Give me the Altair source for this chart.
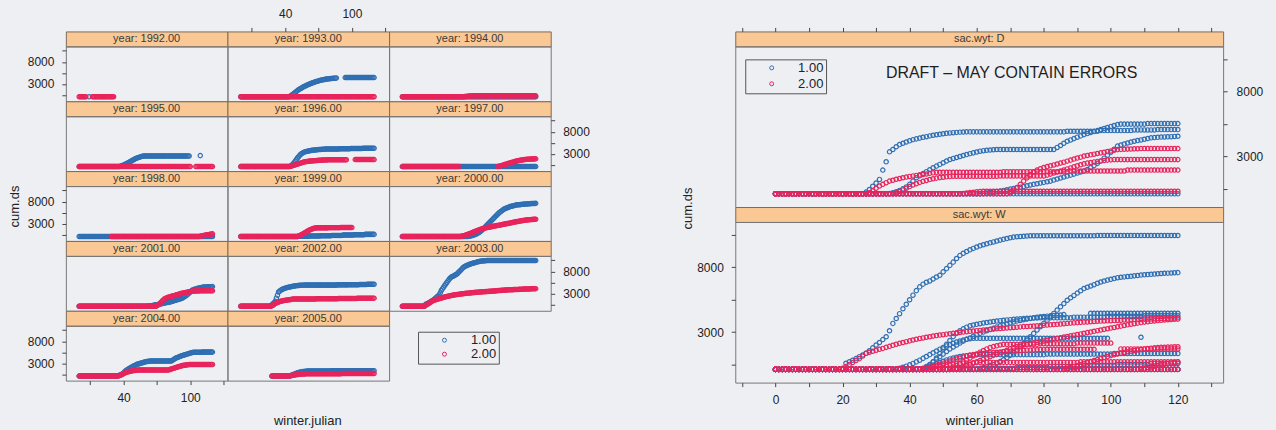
import altair as alt
import pandas as pd

FONT = "Liberation Sans"
BLUE = "#2f6fb3"
RED = "#e8245c"
STRIP_FILL = "#f9c894"
STRIP_EDGE = "#7d6a58"
BG = "#eeeff3"

GROUPS = ["1.00", "2.00"]
YEARS = [1992, 1993, 1994, 1995, 1996, 1997, 1998,
         1999, 2000, 2001, 2002, 2003, 2004, 2005]
SAC_WYT = ["D", "W", "D", "W", "W", "W", "W",
           "W", "W", "D", "D", "W", "D", "W"]

# cumulative ds per year and group: (first winter.julian day, daily values)
ds1_1992 = [(9, [120])]
ds2_1992 = [(0, [120] * 7), (12, [120] * 20)]

ds1_1993 = [
    (0, [120] * 44),
    (44, [200, 350, 500, 700, 900, 1100, 1300, 1500, 1700, 1850,
          2000, 2150, 2300, 2450, 2550, 2680, 2800, 2900, 3000, 3100,
          3200, 3300, 3400, 3480, 3550, 3620, 3700, 3780, 3850, 3900,
          3950, 4000, 4050, 4100, 4150, 4180, 4200, 4230, 4250, 4280,
          4300, 4320, 4350]),
    (94, [4450] * 27),
]
ds2_1993 = [(0, [120] * 121)]

ds1_1994 = [(0, [120] * 121)]
ds2_1994 = [(0, [120] * 56), (56, [150, 180, 210, 240, 270, 300]), (62, [320] * 59)]

ds1_1995 = [
    (0, [120] * 37),
    (37, [200, 280, 370, 470, 580, 700, 830, 970, 1110, 1260, 1400,
          1540, 1680, 1810, 1930, 2040, 2140, 2230, 2310, 2380, 2440, 2490]),
    (59, [2520] * 41),
    (109, [2600]),
]
ds2_1995 = [(0, [120] * 101), (105, [120] * 16)]

ds1_1996 = [
    (0, [120] * 45),
    (45, [250, 450, 700, 1000, 1350, 1700, 2050, 2350, 2650, 2900,
          3100, 3250, 3380, 3480]),
    (59, [3550, 3600, 3650, 3700, 3740, 3780, 3820, 3850, 3880, 3910,
          3940, 3960, 3980, 4000, 4020, 4040, 4060, 4070, 4080, 4090]),
    (79, [4100] * 10 + [4150] * 10 + [4200] * 11 + [4250] * 11),
]
ds2_1996 = [
    (0, [120] * 45),
    (45, [200, 280, 360, 440, 520, 600, 680, 760, 840, 920,
          1000, 1080, 1160, 1230]),
    (59, [1260, 1290, 1320, 1350, 1380, 1400, 1420, 1440, 1460, 1480,
          1500, 1520, 1540, 1560, 1580, 1600, 1610, 1620, 1630, 1640,
          1650, 1660]),
    (81, [1670] * 15),
    (103, [1700] * 18),
]

ds1_1997 = [(0, [120] * 121)]
ds2_1997 = [
    (0, [120] * 52),
    (86, [150, 200, 260, 330, 400, 480, 560, 640, 720, 800,
          880, 960, 1040, 1110, 1180, 1250, 1310, 1370, 1430, 1480,
          1530, 1580, 1620, 1660, 1700, 1730, 1760, 1780, 1800, 1820,
          1830, 1840, 1850, 1860, 1870]),
]

ds1_1998 = [(0, [120] * 121)]
ds2_1998 = [
    (29, [120] * 80),
    (109, [170, 220, 270, 320, 370, 420, 470, 520, 570, 620, 660, 700]),
]

ds1_1999 = [
    (0, [120] * 52),
    (52, [150] * 10 + [200] * 10 + [280] * 10 + [350] * 10
     + [420] * 10 + [500] * 10 + [580] * 9),
]
ds2_1999 = [
    (0, [120] * 52),
    (52, [200, 300, 420, 550, 700, 850, 1000, 1150, 1300, 1450,
          1580, 1700, 1800, 1880, 1940, 2000]),
    (68, [2050] * 11 + [2100] * 11 + [2150] * 11),
]

ds1_2000 = [
    (0, [120] * 60),
    (60, [150, 200, 260, 330, 410, 500, 600, 720, 860, 1020, 1200, 1400]),
    (72, [1620, 1870, 2130, 2380, 2640, 2900, 3160, 3410, 3670, 3920,
          4180, 4440, 4700, 4950, 5200, 5460, 5650, 5830, 6010, 6190,
          6360, 6460, 6560, 6660, 6770, 6870, 6940, 7010, 7070, 7130,
          7200]),
    (103, [7230, 7260, 7290, 7310, 7340, 7370, 7400, 7420, 7440, 7460,
           7480, 7500, 7520, 7540, 7550, 7560, 7580, 7590]),
]
ds2_2000 = [
    (0, [120] * 53),
    (53, [150, 200, 260, 330, 410, 500, 600, 700, 800, 900,
          1000, 1100, 1200, 1300, 1400, 1500, 1600, 1700, 1780, 1860,
          1930, 2000, 2060, 2110, 2160]),
    (78, [2210, 2260, 2310, 2360, 2410, 2460, 2510, 2560, 2610, 2660,
          2710, 2760, 2810, 2860, 2910, 2960, 3010, 3060, 3110, 3160,
          3210, 3260, 3310, 3360, 3410, 3460, 3510, 3560, 3610, 3650,
          3690, 3730, 3770, 3800, 3830, 3860, 3890, 3910, 3930, 3950,
          3970, 3990, 4000]),
]

ds1_2001 = [
    (0, [120] * 62),
    (62, [150, 180, 210, 250, 290, 330, 380, 430, 480, 530, 580]),
    (73, [620, 680, 740, 800, 850, 900, 950, 1000, 1050, 1100,
          1180, 1260, 1340, 1420, 1490, 1560, 1640, 1720, 1800, 1870,
          2000, 2150, 2300, 2470, 2640, 2870, 3100, 3330, 3560, 3800,
          3880, 3960, 4040, 4110, 4180, 4230, 4280, 4330, 4390, 4440,
          4460, 4480, 4500, 4510, 4520, 4530, 4550, 4560]),
]
ds2_2001 = [
    (0, [120] * 70),
    (70, [200, 400, 600, 850, 1100, 1350, 1600, 1800, 1950, 2050,
          2150, 2220, 2280, 2350, 2420, 2490, 2560, 2640, 2720, 2800,
          2880, 2950, 3030, 3080, 3130, 3180, 3230, 3280, 3330, 3380,
          3430, 3480, 3530]),
    (103, [3550, 3560, 3570, 3580, 3590, 3600] + [3610] * 12),
]

ds1_2002 = [
    (0, [120] * 27),
    (27, [250, 450, 700, 950, 1230, 1950, 2590, 3360, 3540, 3750,
          3920, 4020, 4120, 4210, 4300, 4360, 4420, 4480, 4530, 4590,
          4640, 4680, 4720, 4760, 4790, 4820, 4840, 4860, 4880, 4890,
          4900]),
    (58, [4900] * 29),
    (87, [4950] * 10 + [5000] * 10 + [5050] * 7 + [5080] * 7),
]
ds2_2002 = [
    (0, [120] * 28),
    (28, [200, 350, 550, 720, 850, 980, 1100, 1170, 1240, 1300,
          1360, 1410, 1460, 1500, 1540, 1580, 1610, 1650, 1700, 1740]),
    (48, [1780] * 20 + [1820] * 20 + [1880] * 17 + [1950] * 16),
]

ds1_2003 = [
    (0, [120] * 21),
    (21, [590, 700, 820, 950, 1100, 1230, 1360, 1560, 1780, 2000,
          2200, 2420, 2640, 3100, 3670, 4050, 4420, 4800, 5150, 5500,
          5850, 6200, 6490, 6700, 6850, 6950, 7100, 7250, 7380, 7650,
          7900, 8150, 8400, 8680, 8920, 9080, 9220, 9350, 9460, 9570,
          9660, 9740, 9820, 9890, 9960, 10030, 10100, 10160, 10220, 10280,
          10330, 10360, 10380, 10400, 10420]),
    (76, [10440] * 20 + [10460] * 25),
]
ds2_2003 = [
    (0, [120] * 20),
    (20, [200, 350, 500, 650, 800, 950, 1150, 1360]),
    (28, [1440, 1520, 1600, 1670, 1740, 1820, 1900, 1980, 2060, 2130]),
    (38, [2200, 2260, 2320, 2390, 2450, 2510, 2550, 2600, 2640, 2690]),
    (48, [2730, 2770, 2800, 2840, 2870, 2900, 2940, 2970, 3000, 3030]),
    (58, [3060, 3080, 3110, 3130, 3160, 3180, 3210, 3230, 3260, 3280]),
    (68, [3300, 3320, 3340, 3360, 3380, 3400, 3420, 3430, 3450, 3460]),
    (78, [3480, 3500, 3520, 3540, 3560, 3580, 3600, 3620, 3650, 3670]),
    (88, [3690, 3710, 3730, 3750, 3770, 3780, 3800, 3820, 3840, 3850]),
    (98, [3860, 3870, 3880, 3890, 3900, 3920, 3930, 3940, 3960, 3970]),
    (108, [3980, 3990, 4000, 4010, 4020, 4030, 4040, 4050, 4060, 4070,
           4080, 4090, 4100]),
]

ds1_2004 = [
    (0, [120] * 34),
    (34, [150, 200, 280, 380, 500, 650, 850, 1100, 1360, 1520,
          1680, 1830, 1980, 2130, 2260, 2390, 2520, 2650, 2770, 2850,
          2920, 3000, 3080, 3150, 3220, 3280, 3350, 3410, 3450, 3480,
          3500, 3520]),
    (66, [3540] * 18),
    (84, [3700, 3850, 4020, 4180, 4280, 4380, 4490, 4590, 4690, 4770,
          4850, 4930, 5000, 5080, 5160, 5240, 5320, 5390, 5460]),
    (103, [5500] * 8 + [5540] * 10),
]
ds2_2004 = [
    (0, [120] * 36),
    (36, [200, 300, 420, 550, 680, 800, 900, 1000, 1080, 1150,
          1220, 1280, 1330, 1370, 1400, 1430, 1450]),
    (53, [1480] * 14 + [1500] * 14),
    (81, [1560, 1640, 1720, 1800, 1880, 1960, 2040, 2120, 2200, 2280,
          2360, 2430, 2490, 2540, 2580, 2620, 2660, 2690, 2720, 2740]),
    (101, [2760] * 20),
]

ds1_2005 = [
    (28, [150] * 17),
    (45, [250, 350, 450, 550, 650, 750, 850, 930, 1000, 1060,
          1110, 1150, 1180, 1200, 1220, 1240]),
    (61, [1260] * 20 + [1300] * 20 + [1350] * 20),
]
ds2_2005 = [
    (28, [120] * 17),
    (45, [180, 240, 300, 350, 400, 440, 480, 510, 540, 560,
          580, 600, 610, 620, 630, 640]),
    (61, [660] * 30 + [700] * 30),
]

GROUP_1 = [ds1_1992, ds1_1993, ds1_1994, ds1_1995, ds1_1996, ds1_1997, ds1_1998,
           ds1_1999, ds1_2000, ds1_2001, ds1_2002, ds1_2003, ds1_2004, ds1_2005]
GROUP_2 = [ds2_1992, ds2_1993, ds2_1994, ds2_1995, ds2_1996, ds2_1997, ds2_1998,
           ds2_1999, ds2_2000, ds2_2001, ds2_2002, ds2_2003, ds2_2004, ds2_2005]

# long table; group 1.00 first so that 2.00 is drawn on top
rows = []
for grp, series in zip(GROUPS, [GROUP_1, GROUP_2]):
    for year, wyt, segments in zip(YEARS, SAC_WYT, series):
        for start, values in segments:
            for i, v in enumerate(values):
                rows.append({"year": year, "sac_wyt": wyt, "grp": grp,
                             "winter_julian": start + i, "cum_ds": v})
data = pd.DataFrame(rows)

X_DOMAIN = [-12, 133.5]
Y_DOMAIN = [-900, 11500]
Y_TICKS = [500, 3000, 5500, 8000, 10500]
Y_LABELS = "datum.value % 5000 == 3000 ? datum.label : ''"
SMALL_X_TICKS = [10, 40, 70, 100, 130]
SMALL_X_LABELS = "datum.value % 60 == 40 ? datum.label : ''"
BIG_X_TICKS = [-10, 0, 10, 20, 30, 40, 50, 60, 70, 80, 90, 100, 110, 120, 130]
BIG_X_LABELS = "datum.value % 20 == 0 ? datum.label : ''"

X_SCALE = alt.Scale(domain=X_DOMAIN, nice=False, zero=False)
Y_SCALE = alt.Scale(domain=Y_DOMAIN, nice=False, zero=False)
C_SCALE = alt.Scale(domain=GROUPS, range=[BLUE, RED])

PANEL_W, PANEL_H, STRIP_H = 162, 55, 15
WIDE_W, WIDE_H = 489, 161
HIDDEN = alt.ViewBackground(stroke="transparent")


def legend_at(x, y, row_gap):
    return alt.Legend(orient="none", legendX=x, legendY=y, title=None,
                      strokeColor="#555", padding=2, symbolType="circle",
                      symbolSize=16, symbolStrokeWidth=1, symbolOffset=18,
                      labelOffset=20, labelFont=FONT, labelFontSize=13,
                      labelColor="#222", rowPadding=row_gap)


def y_axis(orient, **kw):
    return alt.Axis(orient=orient, values=Y_TICKS, labelExpr=Y_LABELS,
                    format="d", **kw)


def points(filter_expr, x_axis, yax, legend, w, h):
    return alt.Chart(data).transform_filter(filter_expr).mark_point(
        shape="circle", filled=False, size=19, strokeWidth=1.2, opacity=1
    ).encode(
        x=alt.X("winter_julian:Q", scale=X_SCALE, axis=x_axis),
        y=alt.Y("cum_ds:Q", scale=Y_SCALE, axis=yax),
        color=alt.Color("grp:N", scale=C_SCALE, legend=legend),
    ).properties(width=w, height=h)


def strip(label, w):
    return alt.Chart(pd.DataFrame({"label": [label]})).mark_text(
        font=FONT, fontSize=11, color="#3a3a3a"
    ).encode(
        text="label:N", x=alt.value(w / 2), y=alt.value(STRIP_H / 2 + 0.5)
    ).properties(width=w, height=STRIP_H,
                 view=alt.ViewBackground(fill=STRIP_FILL, stroke=STRIP_EDGE))


def blank_strip(w):
    return alt.Chart(pd.DataFrame({"label": [""]})).mark_text().encode(
        text="label:N"
    ).properties(width=w, height=STRIP_H, view=HIDDEN)


def independent(c):
    return c.resolve_scale(color="independent").resolve_legend(color="independent")


# ---- left: one panel per year, strips and panels on one grid --------------
LAYOUT = [[1992, 1993, 1994], [1995, 1996, 1997], [1998, 1999, 2000],
          [2001, 2002, 2003], [2004, 2005]]

grid_items = []
for r, years in enumerate(LAYOUT):
    strips, panels = [], []
    for c, year in enumerate(years):
        yax = None
        if c == 0 and r % 2 == 0:
            if year == 1998:
                yax = y_axis("left", title="cum.ds", titleX=-47, titleY=20,
                             titleBaseline="alphabetic")
            else:
                yax = y_axis("left", title=None)
        elif c == 2 and r % 2 == 1:
            yax = y_axis("right", title=None)
        xax = None
        if year == 1993:
            xax = alt.Axis(orient="top", offset=STRIP_H, values=SMALL_X_TICKS,
                           labelExpr=SMALL_X_LABELS, title=None, labelPadding=7)
        elif year == 2004:
            xax = alt.Axis(orient="bottom", values=SMALL_X_TICKS,
                           labelExpr=SMALL_X_LABELS, title="winter.julian",
                           titleX=242, titleY=44, titleBaseline="alphabetic")
        strips.append(strip(f"year: {year}.00", PANEL_W))
        panels.append(points(alt.datum.year == year, xax, yax, None,
                             PANEL_W, PANEL_H))
    if len(years) < 3:
        # empty cell of the last row carries the key
        strips.append(blank_strip(PANEL_W))
        panels.append(points("false", None, None, legend_at(29, 6, 0),
                             PANEL_W, PANEL_H).properties(view=HIDDEN))
    grid_items += strips + panels

left_grid = independent(alt.concat(*grid_items, columns=3, spacing=0,
                                   bounds="flush"))

# ---- right: one panel per water-year type ---------------------------------
draft = alt.Chart(pd.DataFrame({"note": ["DRAFT \u2013 MAY CONTAIN ERRORS"]})).mark_text(
    font=FONT, fontSize=16, color="#1e1e1e"
).encode(text="note:N", x=alt.value(277), y=alt.value(27))

panel_d = alt.layer(
    points(alt.datum.sac_wyt == "D",
           alt.Axis(orient="top", offset=STRIP_H, values=BIG_X_TICKS,
                    labelOpacity=0, title=None, labelPadding=7),
           y_axis("right", title=None, labelPadding=9),
           legend_at(10, 13, 2), WIDE_W, WIDE_H),
    draft,
).properties(width=WIDE_W, height=WIDE_H)

panel_w = points(
    alt.datum.sac_wyt == "W",
    alt.Axis(orient="bottom", values=BIG_X_TICKS, labelExpr=BIG_X_LABELS,
             title="winter.julian", titleY=42, titleBaseline="alphabetic"),
    y_axis("left", title="cum.ds", titleX=-44, titleY=-14,
           titleBaseline="alphabetic"),
    None, WIDE_W, WIDE_H,
)

right_block = independent(alt.vconcat(strip("sac.wyt: D", WIDE_W), panel_d,
                                      strip("sac.wyt: W", WIDE_W), panel_w,
                                      spacing=0, bounds="flush"))

chart = independent(alt.hconcat(left_grid, right_block, spacing=90)).configure(
    background=BG,
    padding={"left": 8, "top": 6, "right": 12, "bottom": 1},
).configure_view(
    stroke="#777", strokeWidth=1, fill=None
).configure_axis(
    labelFont=FONT, labelFontSize=12, labelColor="#222",
    titleFont=FONT, titleFontSize=13, titleFontWeight="normal", titleColor="#222",
    tickColor="#444", tickSize=4, labelPadding=8, domain=False, grid=False,
    labelFlush=False, labelOverlap=False,
)

chart.save("out.html", embed_options={"renderer": "svg", "actions": False})
